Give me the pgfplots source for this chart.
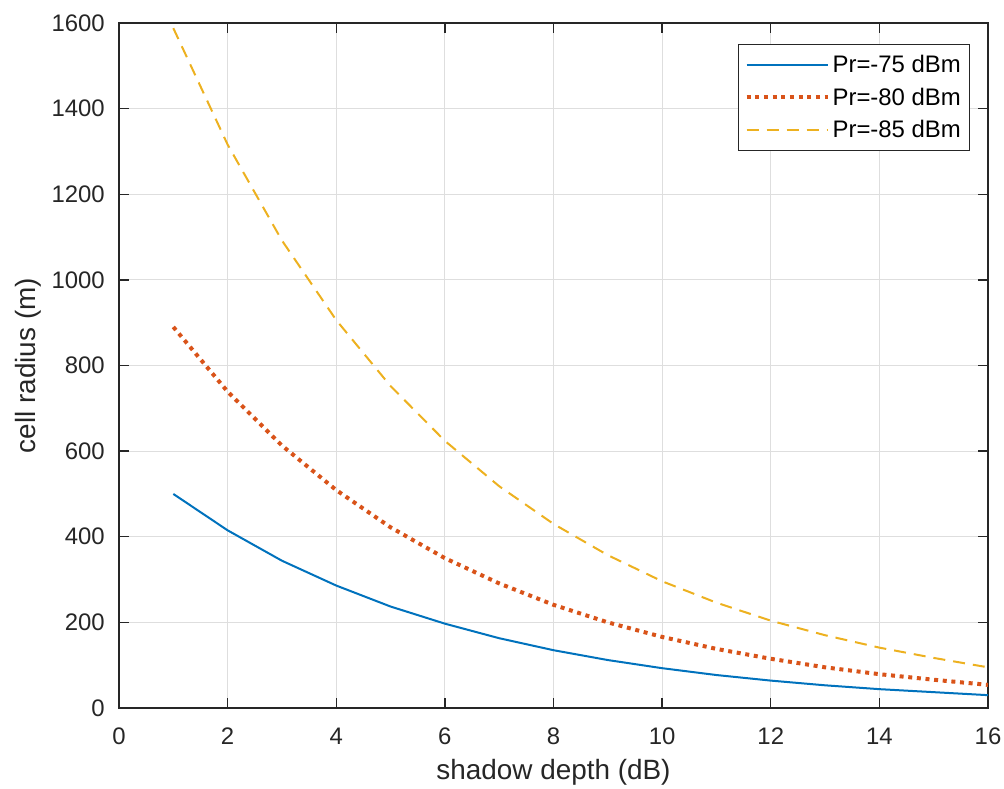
\documentclass[border=0pt]{standalone}
\usepackage{fontspec}
\setmainfont{Liberation Sans}
\usepackage{pgfplots}
\pgfplotsset{compat=1.18}

\definecolor{mblue}{rgb}{0,0.447,0.741}
\definecolor{morange}{rgb}{0.85,0.325,0.098}
\definecolor{myellow}{rgb}{0.929,0.694,0.125}
\definecolor{axgray}{rgb}{0.15,0.15,0.15}
\definecolor{gridgray}{rgb}{0.87,0.87,0.87}

\begin{document}
\begin{tikzpicture}

\begin{axis}[%
width=651.75bp,%
height=513.75bp,%
scale only axis,%
xmin=0,xmax=16,%
ymin=0,ymax=1600,%
xtick={0,2,...,16},%
ytick={0,200,...,1600},%
xmajorgrids,ymajorgrids,%
grid style={color=gridgray,line width=0.75bp},%
axis line style={color=axgray,line width=1.1bp},%
tick style={color=axgray,line width=1.1bp},%
tick align=inside,%
major tick length=7.5bp,%
/pgf/number format/assume math mode=true,%
/pgf/number format/1000 sep={},%
ticklabel style={font=\fontsize{18}{21}\selectfont,color=axgray},%
xticklabel style={inner sep=0pt,anchor=north,yshift=-14.5bp},%
yticklabel style={inner sep=0pt,anchor=east,xshift=-10.5bp},%
xlabel={shadow depth (dB)},%
ylabel={cell radius (m)},%
label style={font=\fontsize{21}{24}\selectfont,color=axgray},%
xlabel style={at={(axis description cs:0.5,-0.0745)},anchor=north,inner sep=0pt},%
ylabel style={at={(axis description cs:-0.1197,0.5)},anchor=north,inner sep=0pt},%
legend cell align=left,%
legend style={at={(1,1)},anchor=north east,xshift=-13.5bp,yshift=-15.75bp,%
  draw=axgray,line width=0.75bp,font=\fontsize{18}{21}\selectfont,%
  inner xsep=4.5bp,inner ysep=6.2bp,row sep=5.8bp},%
legend image code/.code={\draw[#1] (0bp,0bp) -- (61bp,0bp);},%
]%

\addplot [%
color=mblue,%
solid,%
line width=1.5bp%
] coordinates{
(1,500) (2,415) (3,344) (4,286) (5,237) (6,197) (7,163) (8,135)
(9,112) (10,93) (11,77) (12,64) (13,53) (14,44) (15,37) (16,30)
};
\addlegendentry{Pr=-75 dBm}

\addplot [%
color=morange,%
line width=3bp,%
dash pattern=on 3bp off 3.5bp%
] coordinates{
(1,890) (2,739) (3,613) (4,509) (5,422) (6,350) (7,291) (8,241)
(9,200) (10,166) (11,138) (12,115) (13,95) (14,79) (15,66) (16,54)
};
\addlegendentry{Pr=-80 dBm}

\addplot [%
color=myellow,%
line width=1.5bp,%
dash pattern=on 9bp off 6bp%
] coordinates{
(1,1588) (2,1316) (3,1092) (4,906) (5,752) (6,624) (7,518) (8,430)
(9,357) (10,296) (11,246) (12,204) (13,170) (14,141) (15,117) (16,95)
};
\addlegendentry{Pr=-85 dBm}

\coordinate (sw) at (rel axis cs:0,0);
\coordinate (ne) at (rel axis cs:1,1);
\end{axis}

\pgfresetboundingbox
\path[use as bounding box] ([shift={(-89.25bp,-60.75bp)}]sw) rectangle ([shift={(12bp,17.25bp)}]ne);

\end{tikzpicture}
\end{document}
